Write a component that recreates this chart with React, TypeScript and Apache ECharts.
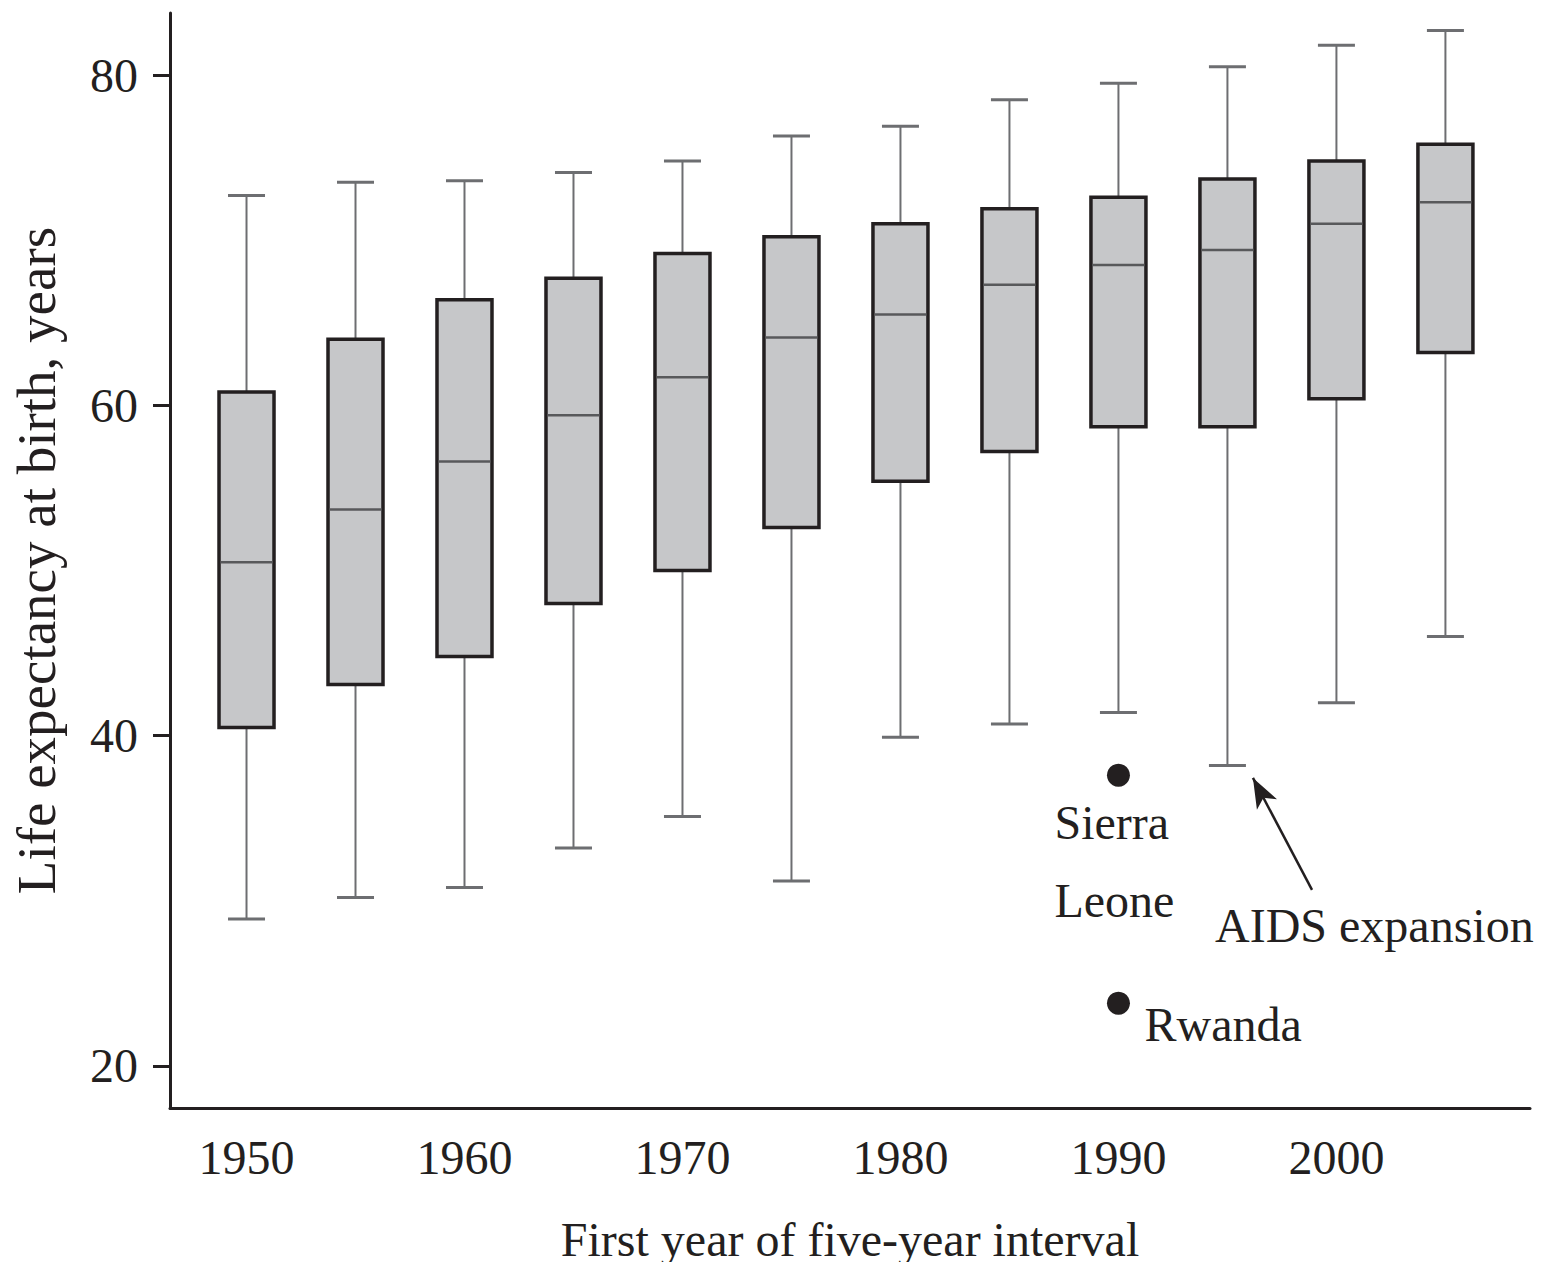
import React, { useEffect, useRef } from "react";
import * as echarts from "echarts";

// ---- data ----
const years = [1950, 1955, 1960, 1965, 1970, 1975, 1980, 1985, 1990, 1995, 2000, 2005];
const whiskerLow = [28.9, 30.2, 30.8, 33.2, 35.1, 31.2, 39.9, 40.7, 41.4, 38.2, 42.0, 46.0];
const quartile1 = [40.5, 43.1, 44.8, 48.0, 50.0, 52.6, 55.4, 57.2, 58.7, 58.7, 60.4, 63.2];
const medians = [50.5, 53.7, 56.6, 59.4, 61.7, 64.1, 65.5, 67.3, 68.5, 69.4, 71.0, 72.3];
const quartile3 = [60.8, 64.0, 66.4, 67.7, 69.2, 70.2, 71.0, 71.9, 72.6, 73.7, 74.8, 75.8];
const whiskerHigh = [72.7, 73.5, 73.6, 74.1, 74.8, 76.3, 76.9, 78.5, 79.5, 80.5, 81.8, 82.7];

const outlierYears = [1990, 1990];
const outlierValues = [37.6, 23.8];
const outlierNames = ["Sierra\nLeone", "Rwanda"];

const xTickLabels = [1950, 1960, 1970, 1980, 1990, 2000];
const yTickLabels = [20, 40, 60, 80];

const arrowFrom = [1998.88, 30.66];
const arrowTo = [1996.17, 37.44];
const arrowText = "AIDS expansion";

const xTitle = "First year of five-year interval";
const yTitle = "Life expectancy at birth, years";

const FONT = "'Liberation Serif', 'Times New Roman', serif";
const INK = "#231f20";

export default function App() {
  const ref = useRef<HTMLDivElement>(null);

  useEffect(() => {
    if (!ref.current) return;
    const chart = echarts.init(ref.current, undefined, { renderer: "svg" });

    const boxData = years.map((y, i) => [
      y,
      whiskerLow[i],
      quartile1[i],
      medians[i],
      quartile3[i],
      whiskerHigh[i],
    ]);

    const outlierData = outlierYears.map((y, i) => ({
      value: [y, outlierValues[i]],
      name: outlierNames[i],
      label:
        i === 0
          ? {
              show: true,
              formatter: "{b}",
              position: "inside",
              align: "left",
              verticalAlign: "top",
              offset: [-64, 8],
              lineHeight: 78,
              color: INK,
              fontFamily: FONT,
              fontSize: 48,
            }
          : {
              show: true,
              formatter: "{b}",
              position: "inside",
              align: "left",
              verticalAlign: "top",
              offset: [26, -3],
              lineHeight: 48,
              color: INK,
              fontFamily: FONT,
              fontSize: 48,
            },
    }));

    const option: any = {
      animation: false,
      backgroundColor: "#ffffff",
      grid: {
        left: 170,
        right: 19,
        top: 13,
        bottom: 162,
        containLabel: false,
        outerBoundsMode: "none",
      },
      xAxis: {
        type: "value",
        min: 1946.49,
        max: 2008.88,
        name: xTitle,
        nameLocation: "middle",
        nameGap: 131,
        nameTextStyle: {
          fontFamily: FONT,
          fontSize: 48,
          color: INK,
          verticalAlign: "middle",
        },
        axisLine: { show: true, onZero: false, lineStyle: { color: INK, width: 3 } },
        axisTick: { show: false },
        splitLine: { show: false },
        axisLabel: {
          customValues: xTickLabels,
          fontFamily: FONT,
          fontSize: 48,
          color: INK,
          margin: 49,
          verticalAlign: "middle",
          formatter: (v: number) => String(v),
        },
      },
      yAxis: {
        type: "value",
        min: 17.457,
        max: 83.754,
        name: yTitle,
        nameLocation: "middle",
        nameGap: 134,
        nameRotate: 90,
        nameTextStyle: {
          fontFamily: FONT,
          fontSize: 55,
          color: INK,
          verticalAlign: "middle",
        },
        axisLine: { show: true, onZero: false, lineStyle: { color: INK, width: 3 } },
        axisTick: {
          show: true,
          inside: false,
          length: 17,
          customValues: yTickLabels,
          lineStyle: { color: INK, width: 3 },
        },
        splitLine: { show: false },
        axisLabel: {
          customValues: yTickLabels,
          fontFamily: FONT,
          fontSize: 48,
          color: INK,
          margin: 32,
          formatter: (v: number) => String(v),
        },
      },
      series: [
        {
          type: "custom",
          name: "boxes",
          data: boxData,
          encode: { x: 0, y: [1, 2, 3, 4, 5] },
          z: 2,
          renderItem: (params: any, api: any) => {
            const x = api.value(0);
            const lo = api.coord([x, api.value(1)]);
            const q1 = api.coord([x, api.value(2)]);
            const md = api.coord([x, api.value(3)]);
            const q3 = api.coord([x, api.value(4)]);
            const hi = api.coord([x, api.value(5)]);
            const cx = lo[0];
            const hb = 27.5;
            const hc = 18.5;
            const whisk = { stroke: "#6d6e71", lineWidth: 2 };
            const cap = { stroke: "#6d6e71", lineWidth: 3 };
            return {
              type: "group",
              children: [
                { type: "line", shape: { x1: cx, y1: hi[1], x2: cx, y2: q3[1] }, style: whisk },
                { type: "line", shape: { x1: cx, y1: q1[1], x2: cx, y2: lo[1] }, style: whisk },
                { type: "line", shape: { x1: cx - hc, y1: hi[1], x2: cx + hc, y2: hi[1] }, style: cap },
                { type: "line", shape: { x1: cx - hc, y1: lo[1], x2: cx + hc, y2: lo[1] }, style: cap },
                {
                  type: "rect",
                  shape: { x: cx - hb, y: q3[1], width: hb * 2, height: q1[1] - q3[1] },
                  style: { fill: "#c6c7c9", stroke: INK, lineWidth: 3.5 },
                },
                {
                  type: "line",
                  shape: { x1: cx - hb + 1.5, y1: md[1], x2: cx + hb - 1.5, y2: md[1] },
                  style: { stroke: "#58595b", lineWidth: 2.5 },
                },
              ],
            };
          },
        },
        {
          type: "scatter",
          name: "outliers",
          data: outlierData,
          symbol: "circle",
          symbolSize: 23,
          itemStyle: { color: INK, opacity: 1 },
          z: 3,
          label: {
            fontFamily: FONT,
            fontSize: 48,
            color: INK,
          },
          markLine: {
            silent: true,
            symbol: ["none", "arrow"],
            symbolSize: [17, 30],
            lineStyle: { color: INK, width: 2.5, type: "solid", opacity: 1 },
            label: { show: false },
            data: [[{ coord: arrowFrom }, { coord: arrowTo }]],
          },
        },
      ],
    };

    chart.setOption(option);

    const p = chart.convertToPixel({ gridIndex: 0 }, arrowFrom) as number[];
    chart.setOption({
      graphic: [
        {
          type: "text",
          x: p[0] - 97,
          y: p[1] + 36,
          style: {
            text: arrowText,
            fontFamily: FONT,
            fontSize: 48,
            fill: INK,
            align: "left",
            verticalAlign: "middle",
          },
        },
      ],
    });

    return () => chart.dispose();
  }, []);

  return <div ref={ref} style={{ width: 1549, height: 1270, margin: -8 }} />;
}
